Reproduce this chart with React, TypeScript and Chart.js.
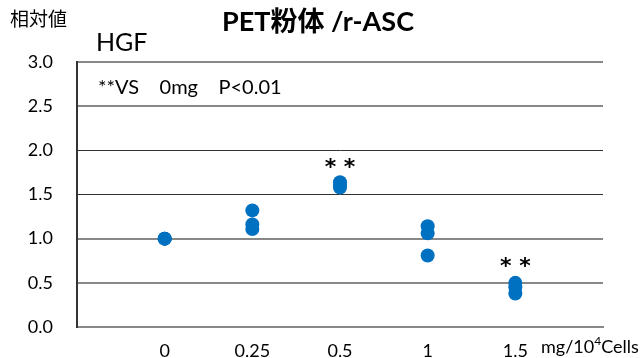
import React, { useEffect, useRef } from "react";
import { Chart, registerables } from "chart.js";

Chart.register(...registerables);

const xLabels = ["", "0", "0.25", "0.5", "1", "1.5", ""];
const groupIndex = [1, 2, 3, 4, 5];
const series0 = [1.0, 1.0, 1.0];
const series025 = [1.32, 1.16, 1.11];
const series05 = [1.64, 1.61, 1.58];
const series1 = [1.14, 1.06, 0.81];
const series15 = [0.5, 0.45, 0.38];
const allSeries = [series0, series025, series05, series1, series15];
const starGroups = [3, 5];
const starValues = [1.855, 0.735];
const yTicks = [0, 0.5, 1, 1.5, 2, 2.5, 3];

const FONT = "Lato, 'Noto Sans CJK JP', sans-serif";

export default function App() {
  const ref = useRef<HTMLCanvasElement>(null);
  useEffect(() => {
    const points: { x: number; y: number }[] = [];
    allSeries.forEach((s, i) => s.forEach((v) => points.push({ x: groupIndex[i], y: v })));

    const textPlugin = {
      id: "texts",
      afterDraw(chart: any) {
        const ctx = chart.ctx;
        const xs = chart.scales.x;
        const ys = chart.scales.y;
        ctx.save();
        ctx.fillStyle = "#000";
        ctx.textBaseline = "middle";
        ctx.textAlign = "center";
        ctx.font = `bold 27px ${FONT}`;
        ctx.fillText("PET粉体 /r-ASC", 318, 22);
        ctx.textAlign = "left";
        ctx.font = `19px ${FONT}`;
        ctx.fillText("相対値", 10, 20);
        ctx.font = `25px ${FONT}`;
        ctx.fillText("HGF", 96, 43);
        ctx.font = `20px ${FONT}`;
        ctx.fillText("**VS    0mg    P<0.01", 98, 88);
        // unit label
        ctx.font = `18px ${FONT}`;
        const x0 = 541;
        const yb = 347;
        ctx.fillText("mg/10", x0, yb);
        const w1 = ctx.measureText("mg/10").width;
        ctx.font = `12px ${FONT}`;
        ctx.fillText("4", x0 + w1, yb - 6);
        const w2 = ctx.measureText("4").width;
        ctx.font = `18px ${FONT}`;
        ctx.fillText("Cells", x0 + w1 + w2, yb);
        // significance stars
        ctx.textAlign = "center";
        ctx.font = `bold 22px 'DejaVu Sans', sans-serif`;
        starGroups.forEach((g, i) => {
          ctx.fillText("* *", xs.getPixelForValue(g), ys.getPixelForValue(starValues[i]) + 5);
        });
        ctx.restore();
      },
    };

    const chart = new Chart(ref.current!, {
      type: "scatter",
      data: {
        datasets: [
          {
            data: points,
            backgroundColor: "#0070C0",
            borderColor: "#0070C0",
            pointRadius: 7,
            pointHoverRadius: 7,
            borderWidth: 0,
          },
        ],
      },
      options: {
        animation: false,
        responsive: false,
        events: [],
        layout: { padding: { top: 62, right: 39, left: 0, bottom: 0 } },
        plugins: { legend: { display: false }, tooltip: { enabled: false } },
        scales: {
          x: {
            type: "linear",
            min: 0,
            max: 6,
            afterBuildTicks(scale: any) {
              scale.ticks = xLabels.map((_, i) => ({ value: i }));
            },
            afterFit(scale: any) {
              scale.height = 31;
              scale.paddingLeft = 0;
              scale.paddingRight = 0;
            },
            ticks: {
              callback: (v: any) => xLabels[v] ?? "",
              color: "#000",
              font: { family: FONT, size: 18 },
              padding: 5,
              maxRotation: 0,
              autoSkip: false,
            },
            grid: { display: false },
            border: { color: "#888", width: 2 },
          },
          y: {
            min: 0,
            max: 3,
            afterBuildTicks(scale: any) {
              scale.ticks = yTicks.map((v) => ({ value: v }));
            },
            afterFit(scale: any) {
              scale.width = 77;
              scale.paddingTop = 0;
              scale.paddingBottom = 0;
            },
            ticks: {
              callback: (v: any) => Number(v).toFixed(1),
              color: "#000",
              font: { family: FONT, size: 18 },
              padding: 24,
            },
            grid: {
              color: (c: any) => (c.tick && (c.tick.value === 2 || c.tick.value === 1.5) ? "#333" : "#888"),
              lineWidth: (c: any) => (c.tick && (c.tick.value === 2 || c.tick.value === 1.5) ? 1 : 2),
              drawTicks: false,
            },
            border: { color: "#333", width: 2 },
          },
        },
      },
      plugins: [textPlugin],
    });
    return () => chart.destroy();
  }, []);
  return (
    <div style={{ position: "fixed", left: 0, top: 0, width: 642, height: 358, background: "#fff" }}>
      <canvas ref={ref} width={642} height={358} />
    </div>
  );
}
